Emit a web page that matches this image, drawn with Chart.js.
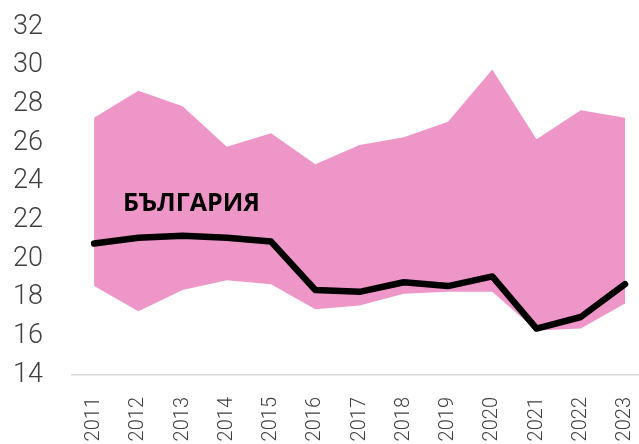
<!DOCTYPE html>
<html>
<head>
<meta charset="utf-8">
<script src="https://cdn.jsdelivr.net/npm/chart.js@4.4.1/dist/chart.umd.min.js"></script>
<style>
    html, body { margin: 0; padding: 0; background: #fff; overflow: hidden; }
    #wrap { width: 663px; height: 444px; }
</style>
</head>
<body>
<div id="wrap"><canvas id="chart" width="663" height="444"></canvas></div>
<script>
const years = ['2011', '2012', '2013', '2014', '2015', '2016', '2017', '2018', '2019', '2020', '2021', '2022', '2023'];
const bandMax = [27.3, 28.7, 27.9, 25.8, 26.5, 24.9, 25.9, 26.3, 27.1, 29.8, 26.2, 27.7, 27.3];
const bandMin = [18.6, 17.3, 18.4, 18.9, 18.7, 17.4, 17.6, 18.2, 18.3, 18.3, 16.3, 16.4, 17.7];
const bulgaria = [20.8, 21.1, 21.2, 21.1, 20.9, 18.4, 18.3, 18.8, 18.6, 19.1, 16.4, 17.0, 18.7];
const yTicks = [14, 16, 18, 20, 22, 24, 26, 28, 30, 32];
const lineLabel = 'БЪЛГАРИЯ';

// text label drawn inside the pink band
const labelPlugin = {
    id: 'lineLabel',
    afterDatasetsDraw(chart) {
        const ctx = chart.ctx;
        const x = chart.scales.x.getPixelForValue(2.2);
        const y = chart.scales.y.getPixelForValue(22.87);
        ctx.save();
        ctx.font = 'bold 25px "Open Sans"';
        ctx.fillStyle = '#000';
        ctx.textAlign = 'center';
        ctx.textBaseline = 'middle';
        ctx.fillText(lineLabel, x, y);
        ctx.restore();
    }
};

new Chart(document.getElementById('chart'), {
    type: 'line',
    data: {
        labels: years,
        datasets: [
            {
                label: 'min',
                data: bandMin,
                borderWidth: 0,
                borderColor: 'rgba(0,0,0,0)',
                pointRadius: 0,
                fill: false,
                order: 3
            },
            {
                label: 'max',
                data: bandMax,
                borderWidth: 0,
                borderColor: 'rgba(0,0,0,0)',
                backgroundColor: '#ef96c9',
                pointRadius: 0,
                fill: '-1',
                order: 2
            },
            {
                label: lineLabel,
                data: bulgaria,
                borderColor: '#000',
                borderWidth: 6.5,
                borderCapStyle: 'round',
                borderJoinStyle: 'round',
                pointRadius: 0,
                fill: false,
                tension: 0,
                order: 1
            }
        ]
    },
    options: {
        responsive: false,
        animation: false,
        layout: { padding: { top: 27, right: 0, bottom: 0, left: 13 } },
        plugins: {
            legend: { display: false },
            tooltip: { enabled: false }
        },
        scales: {
            x: {
                offset: true,
                grid: { display: false },
                border: { display: true, color: '#d9d9d9', width: 1.5 },
                ticks: {
                    color: '#404040',
                    font: { family: 'Roboto', size: 20, weight: 300 },
                    minRotation: 90,
                    maxRotation: 90,
                    padding: 14
                },
                afterFit(scale) { scale.height = 69; }
            },
            y: {
                min: 14,
                max: 32,
                afterBuildTicks(scale) { scale.ticks = yTicks.map(v => ({ value: v })); },
                grid: { display: false },
                border: { display: false },
                ticks: {
                    color: '#404040',
                    font: { family: 'Roboto', size: 27, weight: 300 },
                    padding: 0,
                    crossAlign: 'far'
                },
                afterFit(scale) { scale.width = 59; }
            }
        }
    },
    plugins: [labelPlugin]
});
</script>
</body>
</html>
